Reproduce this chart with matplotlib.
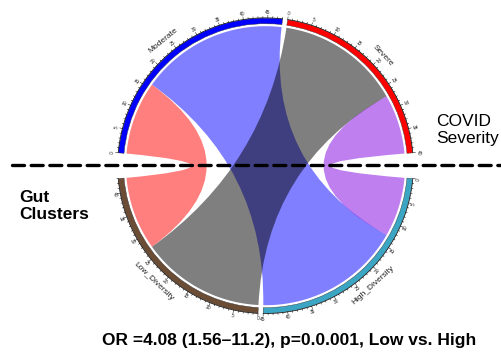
import numpy as np
import matplotlib
matplotlib.use("Agg")
import matplotlib.pyplot as plt
from matplotlib.path import Path
from matplotlib.patches import PathPatch, Wedge

plt.rcParams['font.family'] = ['Liberation Sans', 'DejaVu Sans']

# contingency table: COVID severity (rows) x gut cluster (cols)
rows = ['Moderate', 'Severe']
cols = ['Low_Diversity', 'High_Diversity']
counts = [[16, 32],
          [27, 13]]

# order of sectors clockwise from the left
sector_order = ['Moderate', 'Severe', 'High_Diversity', 'Low_Diversity']
sector_colors = {'Moderate': '#0000FF', 'Severe': '#FF0000',
                 'High_Diversity': '#3AA6C4', 'Low_Diversity': '#6B4C35'}
gap_after = {'Moderate': 2, 'Severe': 10, 'High_Diversity': 2, 'Low_Diversity': 10}
link_colors = [['#FF0000', '#0000FF'],
               ['#000000', '#8000E0']]

title_text = 'OR =4.08 (1.56\u201311.2), p=0.0.001, Low vs. High'

# layout (pixel units)
cx, cy = 265.5, 165.7
r_link = 139.5
r_in, r_out = 142.0, 147.6
start_deg = 175.0

fig = plt.figure(figsize=(5.01, 3.52), dpi=100)
ax = fig.add_axes([0, 0, 1, 1])
ax.set_xlim(0, 501)
ax.set_ylim(352, 0)
ax.axis('off')


def pt(theta, r):
    t = np.radians(theta)
    return cx + r * np.cos(t), cy - r * np.sin(t)


# sector totals
totals = {}
for i, r in enumerate(rows):
    totals[r] = sum(counts[i])
for j, c in enumerate(cols):
    totals[c] = sum(counts[i][j] for i in range(len(rows)))
grand = sum(totals.values())
deg_per_unit = (360 - sum(gap_after.values())) / grand

sector_start = {}
ang = start_deg
for s in sector_order:
    sector_start[s] = ang
    ang -= totals[s] * deg_per_unit + gap_after[s]


def to_deg(s, v):
    return sector_start[s] - v * deg_per_unit


# positions of each link inside the sectors
pos = {}
for i, r in enumerate(rows):
    off = 0
    for j, c in enumerate(cols):
        pos[(r, c, 'row')] = (off, off + counts[i][j])
        off += counts[i][j]
for j, c in enumerate(cols):
    off = 0
    for i in reversed(range(len(rows))):
        r = rows[i]
        pos[(r, c, 'col')] = (off, off + counts[i][j])
        off += counts[i][j]


def arc_pts(t1, t2, r, n=60):
    th = np.linspace(t1, t2, n)
    return [pt(t, r) for t in th]


def ctrl(t1, t2):
    # control point pulled slightly past the centre, like circlize's link height
    mid = np.radians((t1 + t2) / 2)
    d = abs(((t1 - t2 + 180) % 360) - 180)
    k = 10 * max(0, 1 - d / 120)
    return cx - k * np.cos(mid), cy + k * np.sin(mid)


# links
for i, r in enumerate(rows):
    for j, c in enumerate(cols):
        a0, a1 = pos[(r, c, 'row')]
        b0, b1 = pos[(r, c, 'col')]
        ta1, ta2 = to_deg(r, a0), to_deg(r, a1)
        tb1, tb2 = to_deg(c, b0), to_deg(c, b1)
        verts, codes = [], []
        arcA = arc_pts(ta1, ta2, r_link)
        verts += arcA
        codes += [Path.MOVETO] + [Path.LINETO] * (len(arcA) - 1)
        verts += [ctrl(ta2, tb1), pt(tb1, r_link)]
        codes += [Path.CURVE3, Path.CURVE3]
        arcB = arc_pts(tb1, tb2, r_link)[1:]
        verts += arcB
        codes += [Path.LINETO] * len(arcB)
        verts += [ctrl(tb2, ta1), pt(ta1, r_link)]
        codes += [Path.CURVE3, Path.CURVE3]
        verts.append(pt(ta1, r_link))
        codes.append(Path.CLOSEPOLY)
        ax.add_patch(PathPatch(Path(verts, codes), facecolor=link_colors[i][j],
                               alpha=0.5, edgecolor='none', zorder=2))

# outer track, axis, ticks and labels
for s in sector_order:
    t_start = sector_start[s]
    t_end = to_deg(s, totals[s])
    # wedge angles are in screen coordinates (y flipped), so negate
    ax.add_patch(Wedge((cx, cy), r_out, -t_start, -t_end, width=r_out - r_in,
                       facecolor=sector_colors[s], edgecolor='#333333',
                       linewidth=0.3, zorder=3))
    ap = np.array(arc_pts(t_start, t_end, r_out + 0.3))
    ax.plot(ap[:, 0], ap[:, 1], color='black', lw=0.4, zorder=4)
    for v in range(0, totals[s] + 1):
        t = to_deg(s, v)
        major = v % 5 == 0
        L = 2.6 if major else 1.4
        p1, p2 = pt(t, r_out + 0.3), pt(t, r_out + 0.3 + L)
        ax.plot([p1[0], p2[0]], [p1[1], p2[1]], color='black', lw=0.35, zorder=4)
        if major:
            rot = t - 90 if np.sin(np.radians(t)) >= 0 else t + 90
            lx, ly = pt(t, r_out + 5.8)
            ax.text(lx, ly, str(v), fontsize=3.5, rotation=rot, ha='center',
                    va='center', rotation_mode='anchor', color='#222222')
    tm = (t_start + t_end) / 2
    rot = tm - 90 if np.sin(np.radians(tm)) >= 0 else tm + 90
    nx, ny = pt(tm, r_out + 13.5)
    ax.text(nx, ny, s, fontsize=6, rotation=rot, ha='center', va='center',
            rotation_mode='anchor', color='#222222')

# dashed divider
ax.plot([12, 501], [165, 165], color='black', lw=2.4, dashes=(3.6, 2.0),
        dash_capstyle='round', zorder=6)

ax.text(436, 114, 'COVID\nSeverity', fontsize=12.5, ha='left', va='top',
        linespacing=1.2)
ax.text(19, 190, 'Gut\nClusters', fontsize=12.5, fontweight='bold',
        ha='left', va='top', linespacing=1.2)
ax.text(289, 345, title_text, fontsize=12.5, fontweight='bold', ha='center',
        va='baseline')

fig.savefig('out.png', dpi=100)
